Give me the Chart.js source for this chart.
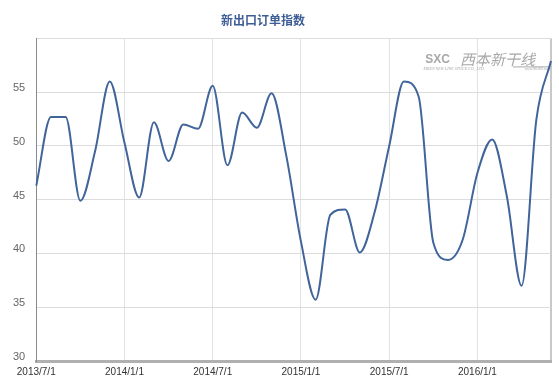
<!DOCTYPE html>
<html><head><meta charset="utf-8">
<script src="https://cdn.jsdelivr.net/npm/chart.js@4/dist/chart.umd.min.js"></script>
<style>html,body{margin:0;padding:0;background:#fff;}#wrap{width:559px;height:383px;position:relative;}</style>
</head><body><div id="wrap"><canvas id="c"></canvas></div>
<script>
const titleText = '新出口订单指数';
const months = ['2013/7/1','2013/8/1','2013/9/1','2013/10/1','2013/11/1','2013/12/1',
  '2014/1/1','2014/2/1','2014/3/1','2014/4/1','2014/5/1','2014/6/1',
  '2014/7/1','2014/8/1','2014/9/1','2014/10/1','2014/11/1','2014/12/1',
  '2015/1/1','2015/2/1','2015/3/1','2015/4/1','2015/5/1','2015/6/1',
  '2015/7/1','2015/8/1','2015/9/1','2015/10/1','2015/11/1','2015/12/1',
  '2016/1/1','2016/2/1','2016/3/1','2016/4/1','2016/5/1','2016/6/1'];
const newExportOrders = [46.3, 52.7, 52.7, 44.9, 49.5, 56.0,
  50.3, 45.2, 52.2, 48.6, 52.0, 51.6,
  55.6, 48.2, 53.1, 51.7, 54.9, 49.1,
  41.1, 35.7, 43.6, 44.1, 40.1, 43.8,
  50.0, 56.0, 54.6, 41.0, 39.4, 41.3,
  47.5, 50.6, 45.3, 37.0, 52.4, 57.9];
const yTicks = [30, 35, 40, 45, 50, 55];
const labelMonths = ['1', '7'];
const watermarkMain = '西本新干线';
const watermarkSub = 'XIBEN NEW LINE STOCK CO., LTD.';
const watermarkUrl = 'www.96369.net';

const isLabeled = (i) => labelMonths.includes(months[i].split('/')[1]);

const titleShift = {
  id: 'titleShift',
  afterLayout(chart) {
    const tb = chart.titleBlock;
    if (tb) { tb.left = 0; tb.right = 526; }
  }
};
const watermark = {
  id: 'watermark',
  beforeDatasetsDraw(chart) {
    const c = chart.ctx, a = chart.chartArea;
    c.save();
    c.fillStyle = '#a8a8a8';
    c.font = 'italic 15px "Noto Sans CJK SC"';
    c.textBaseline = 'middle';
    c.textAlign = 'right';
    c.fillText(watermarkMain, a.right - 16, a.top + 21);
    c.font = 'italic 4px "Liberation Serif"';
    c.fillText(watermarkUrl, a.right - 2, a.top + 31);
    c.textAlign = 'left';
    c.fillText(watermarkSub, a.left + 387, a.top + 31);
    c.font = 'bold 12px "Liberation Sans"';
    c.fillText('SXC', a.left + 389, a.top + 21);
    c.strokeStyle = '#a8a8a8';
    c.lineWidth = 1;
    c.beginPath();
    c.moveTo(a.right - 38, a.top + 28.5);
    c.lineTo(a.right - 2, a.top + 28.5);
    c.stroke();
    c.restore();
  }
};

new Chart(document.getElementById('c'), {
  type: 'line',
  data: {
    labels: months,
    datasets: [{
      label: titleText,
      data: newExportOrders,
      borderColor: '#41659b',
      borderWidth: 2,
      pointRadius: 0,
      fill: false,
      cubicInterpolationMode: 'monotone'
    }]
  },
  options: {
    responsive: true,
    maintainAspectRatio: false,
    animation: false,
    layout: { padding: { left: 2, right: 8, top: 0, bottom: 0 } },
    plugins: {
      legend: { display: false },
      tooltip: { enabled: false },
      title: {
        display: true,
        text: titleText,
        color: '#3d5d96',
        font: { family: '"Noto Sans CJK SC"', size: 12, weight: 'bold' },
        padding: { top: 13, bottom: 11 }
      }
    },
    scales: {
      x: {
        grid: {
          color: (ctx) => {
            const i = ctx.index;
            if (i === months.length - 1) return '#c8c8c8';
            return isLabeled(i) ? '#e2e2e2' : 'rgba(0,0,0,0)';
          },
          lineWidth: (ctx) => ctx.index === months.length - 1 ? 2 : 1,
          drawTicks: false
        },
        border: { color: '#b0b0b0', width: 3 },
        ticks: {
          autoSkip: false,
          maxRotation: 0,
          padding: 5,
          color: '#333',
          font: { family: '"Liberation Sans"', size: 10 },
          callback: (v, i) => isLabeled(i) ? months[i] : ''
        }
      },
      y: {
        min: 30,
        max: 60,
        afterBuildTicks: (axis) => { axis.ticks = yTicks.concat([60]).map(v => ({ value: v })); },
        grid: { color: '#dcdcdc', drawTicks: false },
        border: { color: '#8a8a8a', width: 1 },
        ticks: {
          padding: 11,
          labelOffset: -4,
          color: '#666',
          font: { family: '"Liberation Sans"', size: 11 },
          callback: (v) => yTicks.includes(v) ? String(v) : ''
        }
      }
    }
  },
  plugins: [titleShift, watermark]
});
</script>
</body></html>
